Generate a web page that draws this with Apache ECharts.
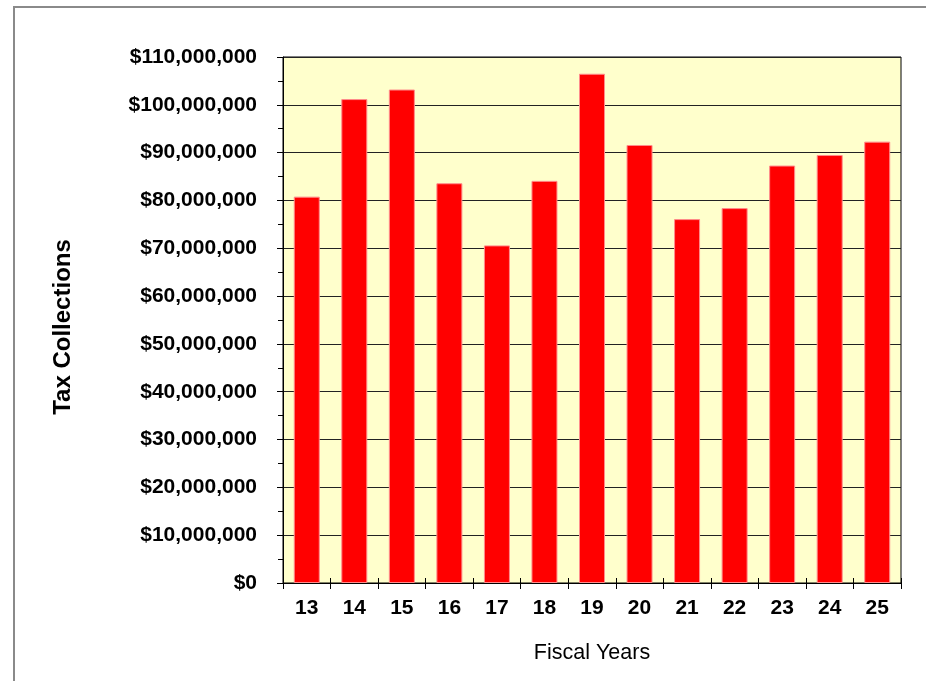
<!DOCTYPE html>
<html>
<head>
<meta charset="utf-8">
<script src="https://cdn.jsdelivr.net/npm/echarts@6/dist/echarts.min.js"></script>
<style>
  html, body { margin: 0; padding: 0; background: #fff; }
  #frame { position: absolute; left: 13px; top: 6px; width: 1000px; height: 800px;
           border-left: 2px solid #8a8a8a; border-top: 2px solid #8a8a8a; }
  #chart { position: absolute; left: 0; top: 0; width: 926px; height: 681px; }
</style>
</head>
<body>
<div id="frame"></div>
<div id="chart"></div>
<script>
const categories = ['13', '14', '15', '16', '17', '18', '19', '20', '21', '22', '23', '24', '25'];
const taxCollections = [80800000, 101200000, 103200000, 83600000, 70600000, 84100000, 106500000,
                        91600000, 76100000, 78400000, 87300000, 89500000, 92300000];
const yMin = 0;
const yMax = 110000000;
const yInterval = 10000000;
const xTitle = 'Fiscal Years';
const yTitle = 'Tax Collections';

const FONT = 'Arial, "Liberation Sans", sans-serif';
const chart = echarts.init(document.getElementById('chart'), null, { renderer: 'canvas' });

chart.setOption({
  animation: false,
  backgroundColor: 'transparent',
  grid: {
    left: 283, right: 25, top: 57, bottom: 98,
    show: true, backgroundColor: '#FFFFCC', borderColor: '#000', borderWidth: 1
  },
  xAxis: [{
    type: 'category',
    position: 'bottom',
    data: categories,
    axisLine: { show: true, lineStyle: { color: '#000', width: 1 } },
    axisTick: { show: true, length: 6, alignWithLabel: false, lineStyle: { color: '#000' } },
    axisLabel: { color: '#000', fontFamily: FONT, fontWeight: 'bold', fontSize: 21, margin: 15 },
    name: xTitle,
    nameLocation: 'middle',
    nameGap: 59,
    nameTextStyle: { color: '#000', fontFamily: FONT, fontSize: 21.5 }
  }, {
    type: 'category',
    position: 'bottom',
    data: categories,
    axisLine: { show: false },
    axisTick: { show: true, inside: true, length: 5, lineStyle: { color: '#000' } },
    axisLabel: { show: false }
  }],
  yAxis: {
    type: 'value',
    min: yMin, max: yMax, interval: yInterval,
    axisLine: { show: true, lineStyle: { color: '#000', width: 1 } },
    axisTick: { show: true, length: 6, lineStyle: { color: '#000' } },
    minorTick: { show: true, splitNumber: 2, length: 5, lineStyle: { color: '#000' } },
    splitLine: { show: true, lineStyle: { color: '#222', width: 1 } },
    axisLabel: {
      color: '#000', fontFamily: FONT, fontWeight: 'bold', fontSize: 21, margin: 26,
      formatter: v => '$' + Math.round(v).toLocaleString('en-US')
    }
  },
  graphic: [{
    type: 'text',
    rotation: Math.PI / 2,
    style: {
      text: yTitle, fill: '#000',
      font: 'bold 24px ' + FONT,
      textAlign: 'center', textVerticalAlign: 'middle'
    },
    x: 63, y: 327
  }],
  series: [{
    type: 'bar',
    data: taxCollections,
    barWidth: 26,
    itemStyle: { color: '#FF0000', borderColor: '#FF8C8C', borderWidth: 1 }
  }]
});
</script>
</body>
</html>
